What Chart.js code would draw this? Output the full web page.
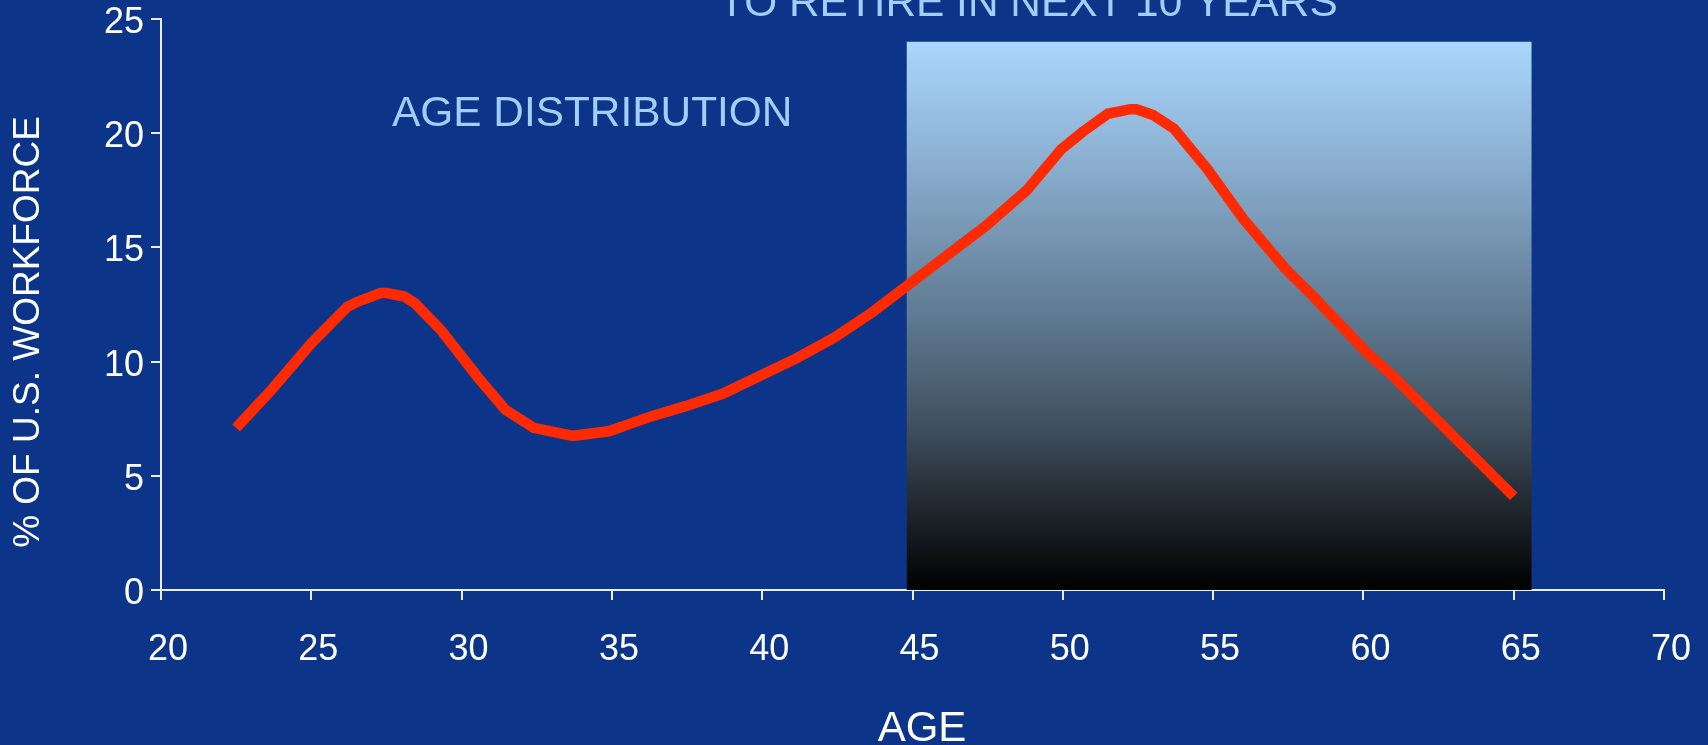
<!DOCTYPE html>
<html>
<head>
<meta charset="utf-8">
<script src="https://cdn.jsdelivr.net/npm/chart.js@4.4.1/dist/chart.umd.min.js"></script>
<style>
  html, body { margin: 0; padding: 0; background: #0c358a; }
  #wrap { width: 1708px; height: 745px; }
</style>
</head>
<body>
<div id="wrap"><canvas id="c" width="1708" height="745"></canvas></div>
<script>
// ---- data ----
const ages = [22.5, 23.7, 25.0, 26.2, 26.5, 27.3, 27.5, 28.1, 28.45, 29.3, 30.55, 31.45, 32.4, 33.7, 34.9,
              36.3, 37.45, 38.7, 41.15, 42.4, 43.65, 47.45, 48.8, 49.95, 50.65, 51.5, 52.25, 52.45, 53.0,
              53.7, 54.8, 56.0, 57.45, 58.3, 60.15, 61.0, 65.0];
const workforcePct = [7.1, 8.8, 10.8, 12.4, 12.6, 13.0, 13.0, 12.85, 12.55, 11.4, 9.3, 7.9, 7.1, 6.75, 6.95,
              7.6, 8.05, 8.6, 10.15, 11.05, 12.15, 15.95, 17.5, 19.3, 20.05, 20.85, 21.05, 21.05, 20.8,
              20.2, 18.45, 16.25, 14.0, 12.9, 10.35, 9.35, 4.1];
const retireAges = [44.8, 65.6];
const retireLevel = [24, 24];
const xRange = [20, 70];
const yRange = [0, 25];
const tickStep = [5, 5];
const titleText = 'TO RETIRE IN NEXT 10 YEARS';
const subtitleText = 'AGE DISTRIBUTION';
const xTitleText = 'AGE';
const yTitleText = '% OF U.S. WORKFORCE';

const FONT = "'Liberation Sans', Arial, sans-serif";
const BG = '#0c358a';
const LIGHT = '#a2cffa';

const curvePoints = ages.map((a, i) => ({ x: a, y: workforcePct[i] }));
const shadePoints = retireAges.map((a, i) => ({ x: a, y: retireLevel[i] }));

const bgPlugin = {
  id: 'bg',
  beforeDraw(chart) {
    const c = chart.ctx;
    c.save();
    c.fillStyle = BG;
    c.fillRect(0, 0, chart.width, chart.height);
    c.restore();
  }
};

const textPlugin = {
  id: 'texts',
  afterDraw(chart) {
    const c = chart.ctx;
    c.save();
    c.font = '42.4px ' + FONT;
    c.fillStyle = LIGHT;
    c.textAlign = 'left';
    c.textBaseline = 'alphabetic';
    c.fillText(titleText, 719, 16);
    c.fillText(subtitleText, 392, 126);
    // x-axis title
    c.fillStyle = '#ffffff';
    c.font = '42px ' + FONT;
    c.textAlign = 'center';
    c.fillText(xTitleText, 922, 741);
    // y-axis title
    c.font = '37px ' + FONT;
    c.translate(28.5, 332);
    c.rotate(-Math.PI / 2);
    c.textAlign = 'center';
    c.textBaseline = 'middle';
    c.fillText(yTitleText, 0, 0);
    c.restore();
  }
};

function shadeGradient(context) {
  const chart = context.chart;
  const { ctx, chartArea, scales } = chart;
  if (!chartArea) return 'rgba(0,0,0,0)';
  const top = scales.y.getPixelForValue(retireLevel[0]);
  const bot = scales.y.getPixelForValue(0);
  const g = ctx.createLinearGradient(0, top, 0, bot);
  g.addColorStop(0, '#aad7fe');
  g.addColorStop(0.25, '#86a9c9');
  g.addColorStop(0.5, '#5f7a92');
  g.addColorStop(0.7, '#40505f');
  g.addColorStop(0.85, '#20272f');
  g.addColorStop(1, '#000000');
  return g;
}

new Chart(document.getElementById('c'), {
  type: 'line',
  data: {
    datasets: [
      {
        label: 'Age distribution',
        data: curvePoints,
        borderColor: '#ff2a00',
        borderWidth: 10.5,
        pointRadius: 0,
        tension: 0,
        fill: false,
        order: 1
      },
      {
        label: 'To retire in next 10 years',
        data: shadePoints,
        borderWidth: 0,
        borderColor: 'rgba(0,0,0,0)',
        backgroundColor: shadeGradient,
        pointRadius: 0,
        fill: 'origin',
        order: 2
      }
    ]
  },
  options: {
    responsive: false,
    devicePixelRatio: 1,
    animation: false,
    layout: { padding: { top: 19, right: 44, left: 0, bottom: 0 } },
    plugins: {
      legend: { display: false },
      tooltip: { enabled: false },
      title: { display: false }
    },
    scales: {
      x: {
        type: 'linear',
        min: xRange[0],
        max: xRange[1],
        z: 1,
        afterFit(scale) {
          scale.height = 155;
          scale.paddingLeft = 0;
          scale.paddingRight = 0;
        },
        ticks: {
          stepSize: tickStep[0],
          color: '#ffffff',
          font: { family: FONT, size: 36 },
          padding: 28,
          labelOffset: 7,
          maxRotation: 0,
          autoSkip: false
        },
        grid: {
          drawOnChartArea: false,
          drawTicks: true,
          tickLength: 10,
          color: '#e9eef7',
          lineWidth: 2
        },
        border: { display: true, color: '#e9eef7', width: 2 },
        title: { display: false, text: xTitleText }
      },
      y: {
        type: 'linear',
        min: yRange[0],
        max: yRange[1],
        afterFit(scale) {
          scale.width = 161;
          scale.paddingTop = 0;
          scale.paddingBottom = 0;
        },
        ticks: {
          stepSize: tickStep[1],
          color: '#ffffff',
          font: { family: FONT, size: 36 },
          padding: 7,
          labelOffset: 4
        },
        grid: {
          drawOnChartArea: false,
          drawTicks: true,
          tickLength: 10,
          color: '#e9eef7',
          lineWidth: 2
        },
        border: { display: true, color: '#e9eef7', width: 2 },
        title: { display: false, text: yTitleText }
      }
    }
  },
  plugins: [bgPlugin, textPlugin]
});
</script>
</body>
</html>
